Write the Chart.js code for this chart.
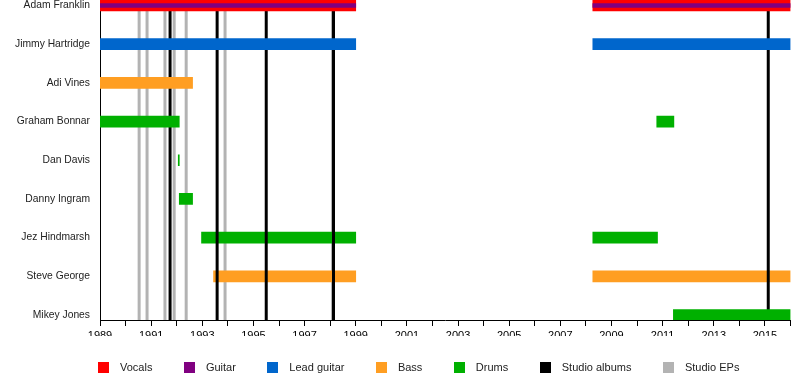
<!DOCTYPE html>
<html>
<head>
<meta charset="utf-8">
<title>Band members timeline</title>
<script src="https://cdn.jsdelivr.net/npm/chart.js@4.4.1/dist/chart.umd.min.js"></script>
<style>
  body { margin: 0; background: #fff; }
  #wrap { width: 800px; height: 380px; position: relative; }
</style>
</head>
<body>
<div id="wrap"><canvas id="timeline"></canvas></div>
<script>
// rows, top to bottom
const members = ["Adam Franklin", "Jimmy Hartridge", "Adi Vines", "Graham Bonnar", "Dan Davis",
  "Danny Ingram", "Jez Hindmarsh", "Steve George", "Mikey Jones"];

// [member, from, to] in years
const vocals = [["Adam Franklin", 1989, 1999], ["Adam Franklin", 2008.27, 2016]];
const guitar = [["Adam Franklin", 1989, 1999], ["Adam Franklin", 2008.27, 2016]];
const leadGuitar = [["Jimmy Hartridge", 1989, 1999], ["Jimmy Hartridge", 2008.27, 2016]];
const bass = [["Adi Vines", 1989, 1992.62], ["Steve George", 1993.44, 1999], ["Steve George", 2008.27, 2016]];
const drums = [
  ["Graham Bonnar", 1989, 1992.1], ["Graham Bonnar", 2010.77, 2011.44],
  ["Dan Davis", 1992.06, 1992.1], ["Danny Ingram", 1992.1, 1992.62],
  ["Jez Hindmarsh", 1992.97, 1999], ["Jez Hindmarsh", 2008.27, 2010.8],
  ["Mikey Jones", 2011.42, 2016]
];

const studioAlbums = [1991.74, 1993.58, 1995.5, 1998.13, 2015.13];
const studioEPs = [1990.53, 1990.84, 1991.54, 1991.9, 1992.37, 1993.89, 1998.09];

const yearMin = 1989;
const yearMax = 2016;

// these rows sit behind the album lines
const backRows = ["Jez Hindmarsh", "Steve George"];

const rowMin = -0.142;
const rowMax = 8.129;

function bars(list) {
  return list.map(([name, from, to]) => ({ y: members.indexOf(name), x: [from, to] }));
}
const front = list => bars(list.filter(s => !backRows.includes(s[0])));
const back = list => bars(list.filter(s => backRows.includes(s[0])));

function vlines(years) {
  return years.flatMap(yr => [{ x: yr, y: rowMin }, { x: yr, y: rowMax }, { x: null, y: null }]);
}

function barSet(label, data, color, order, thickness, inLegend = true) {
  return {
    type: "bar", label, data, order, inLegend,
    backgroundColor: color, borderWidth: 0,
    barThickness: thickness || 11, grouped: false
  };
}

function lineSet(label, years, color, order) {
  return {
    type: "line", label, data: vlines(years), order, inLegend: true,
    borderColor: color, backgroundColor: color, borderWidth: 3,
    pointRadius: 0, fill: false, tension: 0, spanGaps: false
  };
}

// 11x11 legend swatch
function swatch(color) {
  const c = document.createElement("canvas");
  c.width = 11; c.height = 11;
  const g = c.getContext("2d");
  g.fillStyle = color;
  g.fillRect(0, 0, 11, 11);
  return c;
}

Chart.defaults.font.family = "'Liberation Sans', Arial, sans-serif";
Chart.defaults.font.size = 11;
Chart.defaults.color = "#000";

new Chart(document.getElementById("timeline"), {
  type: "bar",
  data: {
    datasets: [
      barSet("Vocals", front(vocals), "#ff0000", 2),
      barSet("Guitar", front(guitar), "#800080", 1, 4),
      barSet("Lead guitar", front(leadGuitar), "#0066cc", 2),
      barSet("Bass", front(bass), "#ff9e22", 2),
      barSet("Drums", front(drums), "#00b000", 2),
      lineSet("Studio albums", studioAlbums, "#000000", 4),
      lineSet("Studio EPs", studioEPs, "#b3b3b3", 6),
      barSet("Bass", back(bass), "#ff9e22", 5, 11, false),
      barSet("Drums", back(drums), "#00b000", 5, 11, false)
    ]
  },
  options: {
    indexAxis: "y",
    responsive: true,
    maintainAspectRatio: false,
    animation: false,
    events: [],
    layout: { padding: { left: 66.5, right: 9.5, top: 0, bottom: -3 } },
    scales: {
      x: {
        type: "linear",
        min: yearMin,
        max: yearMax,
        offset: false,
        grid: { offset: false, drawOnChartArea: false, drawTicks: true, tickLength: 6, color: "#000" },
        border: { color: "#000", width: 1 },
        ticks: {
          stepSize: 1,
          autoSkip: false,
          maxRotation: 0,
          padding: 3,
          callback: v => (v % 2 === 1 ? String(v) : "")
        },
        afterFit: s => { s.height = 16; s.paddingLeft = 0; s.paddingRight = 0; }
      },
      y: {
        type: "linear",
        reverse: true,
        min: rowMin,
        max: rowMax,
        offset: false,
        grid: { offset: false, drawOnChartArea: false, drawTicks: false },
        border: { color: "#000", width: 1 },
        ticks: { padding: 10, autoSkip: false, font: { size: 10.3 }, color: "#222", callback: v => members[v] },
        afterBuildTicks: s => { s.ticks = members.map((m, i) => ({ value: i })); },
        afterFit: s => {
          s.width = 33.5; s.paddingTop = 0; s.paddingBottom = 0;
          s._computeLabelArea = () => null; // names reach into the left padding
        }
      }
    },
    plugins: {
      tooltip: { enabled: false },
      legend: {
        position: "bottom",
        align: "start",
        labels: {
          usePointStyle: true,
          pointStyleWidth: 22,
          boxHeight: 11,
          padding: 26,
          color: "#222",
          generateLabels: c => Chart.defaults.plugins.legend.labels.generateLabels(c)
            .filter(l => c.data.datasets[l.datasetIndex].inLegend)
            .sort((a, b) => a.datasetIndex - b.datasetIndex)
            .map(l => ({ ...l, lineWidth: 0, pointStyle: swatch(c.data.datasets[l.datasetIndex].backgroundColor) }))
        }
      }
    }
  }
});
</script>
</body>
</html>
